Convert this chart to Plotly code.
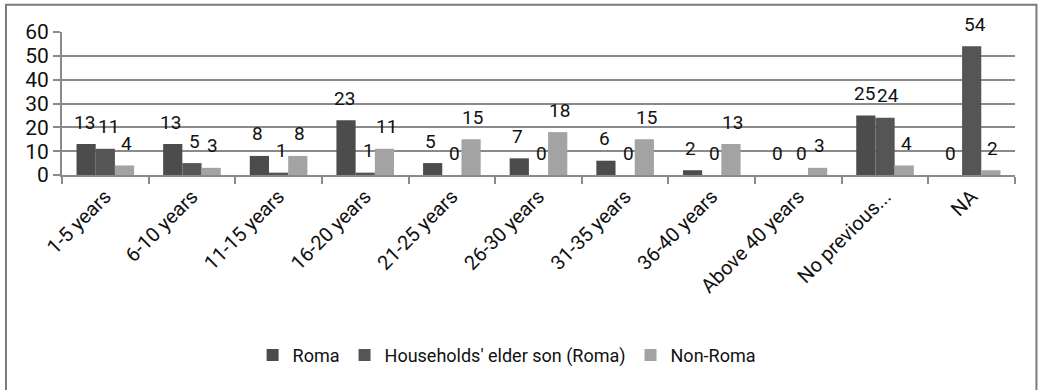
import plotly.graph_objects as go

categories = ["1-5 years", "6-10 years", "11-15 years", "16-20 years", "21-25 years",
              "26-30 years", "31-35 years", "36-40 years", "Above 40 years",
              "No previous...", "NA"]
roma = [13, 13, 8, 23, 5, 7, 6, 2, 0, 25, 0]
elder_son = [11, 5, 1, 1, 0, 0, 0, 0, 0, 24, 54]
non_roma = [4, 3, 8, 11, 15, 18, 15, 13, 3, 4, 2]

series = [
    ("Roma", roma, "#4c4c4c", -21),
    ("Households' elder son (Roma)", elder_son, "#555555", 3),
    ("Non-Roma", non_roma, "#a3a3a3", 21),
]

FONT = "Roboto, sans-serif"

fig = go.Figure()
annotations = []
for name, vals, color, dx in series:
    fig.add_trace(go.Bar(
        x=categories, y=vals, name=name,
        marker=dict(color=color, line=dict(width=0)),
    ))
    # value labels sit a little above each bar
    for c, v in zip(categories, vals):
        annotations.append(dict(
            x=c, y=v, xref="x", yref="y", text=str(v), showarrow=False,
            xshift=dx, yshift=22, font=dict(size=19, color="#111111", family=FONT),
        ))

fig.update_layout(
    width=1038, height=390,
    margin=dict(l=62, r=23, t=32, b=215),
    paper_bgcolor="white", plot_bgcolor="white",
    barmode="group", bargap=0.335, bargroupgap=0,
    font=dict(family=FONT, color="#111111"),
    showlegend=True,
    legend=dict(
        orientation="h", x=0.2, xanchor="left", y=-1.26, yanchor="middle",
        font=dict(size=18, color="#111111"), itemwidth=30,
        traceorder="normal", itemclick=False,
    ),
    annotations=annotations,
    shapes=[dict(
        type="rect", xref="paper", yref="paper",
        x0=-0.0588, x1=1.0225, y0=-1.6, y1=1.19,
        line=dict(color="#7a7a7a", width=2), fillcolor="rgba(0,0,0,0)", layer="below",
    )],
)

fig.update_yaxes(
    range=[0, 60], dtick=10, showgrid=True, gridcolor="#8a8a8a", gridwidth=2,
    showline=True, linecolor="#8a8a8a", linewidth=2,
    ticks="outside", ticklen=7, tickcolor="#8a8a8a", tickwidth=2,
    tickfont=dict(size=21, color="#111111"), zeroline=False,
)
fig.update_xaxes(
    type="category", showline=True, linecolor="#8a8a8a", linewidth=2,
    ticks="outside", ticklen=7, tickcolor="#8a8a8a", tickwidth=2,
    tickson="boundaries", tickangle=-45,
    tickfont=dict(size=20, color="#111111"), showgrid=False,
)

fig.write_html("out.html")
